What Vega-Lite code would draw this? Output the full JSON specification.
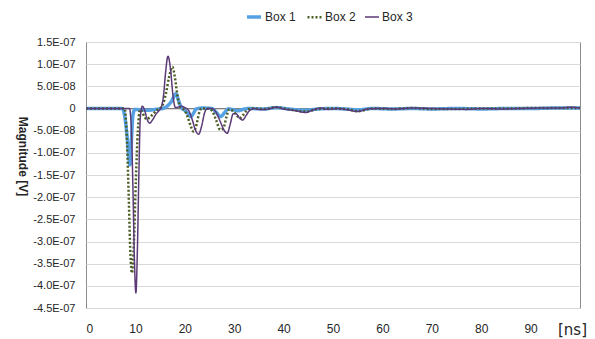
{
  "$schema": "https://vega.github.io/schema/vega-lite/v6.json",
  "width": 494,
  "height": 266,
  "autosize": {"type": "none"},
  "padding": {"left": 86, "top": 42, "right": 15, "bottom": 31},
  "background": "white",
  "config": {
    "view": {"stroke": "#8c8c8c", "strokeWidth": 1},
    "font": "Liberation Sans",
    "legend": {
      "orient": "none", "legendX": 159, "legendY": -34, "direction": "horizontal",
      "symbolType": "stroke", "symbolSize": 196, "labelFontSize": 12,
      "labelFont": "Liberation Sans", "labelColor": "#262626",
      "columnPadding": 6, "labelOffset": 2, "padding": 0, "titlePadding": 0
    }
  },
  "data": {"values": [
    {"s":"Box 1","t":0,"v":0},{"s":"Box 1","t":5,"v":0},{"s":"Box 1","t":7.3,"v":0},{"s":"Box 1","t":7.8,"v":-1.5e-8},{"s":"Box 1","t":8.3,"v":-6e-8},{"s":"Box 1","t":8.9,"v":-1.27e-7},{"s":"Box 1","t":9.2,"v":-7e-8},{"s":"Box 1","t":9.5,"v":-1.5e-8},{"s":"Box 1","t":9.9,"v":-2e-9},{"s":"Box 1","t":11,"v":-3e-9},{"s":"Box 1","t":12.5,"v":-4e-9},{"s":"Box 1","t":14,"v":-2e-9},{"s":"Box 1","t":15.5,"v":0},{"s":"Box 1","t":16.5,"v":6e-9},{"s":"Box 1","t":17.3,"v":1.6e-8},{"s":"Box 1","t":18.2,"v":3.3e-8},{"s":"Box 1","t":18.8,"v":1.6e-8},{"s":"Box 1","t":19.3,"v":2e-9},{"s":"Box 1","t":20,"v":-4e-9},{"s":"Box 1","t":20.6,"v":-1.1e-8},{"s":"Box 1","t":21.2,"v":-1.8e-8},{"s":"Box 1","t":21.8,"v":-1e-8},{"s":"Box 1","t":22.3,"v":-1e-9},{"s":"Box 1","t":23.5,"v":1e-9},{"s":"Box 1","t":25.5,"v":0},{"s":"Box 1","t":26.3,"v":-8e-9},{"s":"Box 1","t":27.3,"v":-1.8e-8},{"s":"Box 1","t":28,"v":-1e-8},{"s":"Box 1","t":28.8,"v":-1e-9},{"s":"Box 1","t":29.8,"v":-3e-9},{"s":"Box 1","t":30.8,"v":-5e-9},{"s":"Box 1","t":31.8,"v":-2e-9},{"s":"Box 1","t":33,"v":0},{"s":"Box 1","t":36,"v":-1e-9},{"s":"Box 1","t":38.5,"v":2e-9},{"s":"Box 1","t":41,"v":-1e-9},{"s":"Box 1","t":44.5,"v":-4e-9},{"s":"Box 1","t":47,"v":-1e-9},{"s":"Box 1","t":50,"v":0},{"s":"Box 1","t":52.5,"v":-1e-9},{"s":"Box 1","t":55,"v":-3e-9},{"s":"Box 1","t":58,"v":0},{"s":"Box 1","t":62,"v":-1e-9},{"s":"Box 1","t":66,"v":0},{"s":"Box 1","t":70,"v":-1e-9},{"s":"Box 1","t":75,"v":0},{"s":"Box 1","t":80,"v":-1e-9},{"s":"Box 1","t":85,"v":0},{"s":"Box 1","t":90,"v":0},{"s":"Box 1","t":95,"v":1e-9},{"s":"Box 1","t":100,"v":1e-9},

    {"s":"Box 2","t":0,"v":0},{"s":"Box 2","t":5,"v":0},{"s":"Box 2","t":7.8,"v":0},{"s":"Box 2","t":8.2,"v":-5e-8},{"s":"Box 2","t":8.6,"v":-1.8e-7},{"s":"Box 2","t":9.0,"v":-3.3e-7},{"s":"Box 2","t":9.3,"v":-3.71e-7},{"s":"Box 2","t":9.7,"v":-3e-7},{"s":"Box 2","t":10.1,"v":-1.6e-7},{"s":"Box 2","t":10.5,"v":-5e-8},{"s":"Box 2","t":10.9,"v":-3e-9},{"s":"Box 2","t":11.3,"v":-6e-9},{"s":"Box 2","t":11.8,"v":-1.8e-8},{"s":"Box 2","t":12.3,"v":-2.4e-8},{"s":"Box 2","t":12.9,"v":-2e-8},{"s":"Box 2","t":13.6,"v":-1.2e-8},{"s":"Box 2","t":14.3,"v":-4e-9},{"s":"Box 2","t":15,"v":0},{"s":"Box 2","t":15.6,"v":1e-8},{"s":"Box 2","t":16.2,"v":3.5e-8},{"s":"Box 2","t":16.8,"v":7e-8},{"s":"Box 2","t":17.5,"v":9.4e-8},{"s":"Box 2","t":18,"v":7e-8},{"s":"Box 2","t":18.5,"v":3e-8},{"s":"Box 2","t":19,"v":5e-9},{"s":"Box 2","t":19.5,"v":0},{"s":"Box 2","t":20,"v":-5e-9},{"s":"Box 2","t":20.6,"v":-2e-8},{"s":"Box 2","t":21.2,"v":-4e-8},{"s":"Box 2","t":21.8,"v":-5.2e-8},{"s":"Box 2","t":22.4,"v":-3.5e-8},{"s":"Box 2","t":22.9,"v":-1e-8},{"s":"Box 2","t":23.4,"v":0},{"s":"Box 2","t":24.5,"v":0},{"s":"Box 2","t":25.5,"v":-5e-9},{"s":"Box 2","t":26.3,"v":-2.5e-8},{"s":"Box 2","t":27.2,"v":-4.8e-8},{"s":"Box 2","t":27.8,"v":-4.5e-8},{"s":"Box 2","t":28.4,"v":-2e-8},{"s":"Box 2","t":29,"v":-2e-9},{"s":"Box 2","t":29.8,"v":-6e-9},{"s":"Box 2","t":30.5,"v":-1.5e-8},{"s":"Box 2","t":31.1,"v":-2.2e-8},{"s":"Box 2","t":31.8,"v":-1.5e-8},{"s":"Box 2","t":32.5,"v":-5e-9},{"s":"Box 2","t":33.5,"v":0},{"s":"Box 2","t":36,"v":-1e-9},{"s":"Box 2","t":38.5,"v":3e-9},{"s":"Box 2","t":41,"v":-2e-9},{"s":"Box 2","t":44.5,"v":-7e-9},{"s":"Box 2","t":47,"v":-1e-9},{"s":"Box 2","t":50,"v":0},{"s":"Box 2","t":53,"v":-2e-9},{"s":"Box 2","t":55,"v":-6e-9},{"s":"Box 2","t":58,"v":0},{"s":"Box 2","t":62,"v":-1e-9},{"s":"Box 2","t":66,"v":1e-9},{"s":"Box 2","t":70,"v":-1e-9},{"s":"Box 2","t":75,"v":-1e-9},{"s":"Box 2","t":80,"v":0},{"s":"Box 2","t":85,"v":0},{"s":"Box 2","t":90,"v":1e-9},{"s":"Box 2","t":95,"v":1e-9},{"s":"Box 2","t":100,"v":1e-9},

    {"s":"Box 3","t":0,"v":0},{"s":"Box 3","t":5,"v":0},{"s":"Box 3","t":8.8,"v":0},{"s":"Box 3","t":9.2,"v":-5e-8},{"s":"Box 3","t":9.5,"v":-1.8e-7},{"s":"Box 3","t":9.8,"v":-3.4e-7},{"s":"Box 3","t":10.1,"v":-4.16e-7},{"s":"Box 3","t":10.4,"v":-3.2e-7},{"s":"Box 3","t":10.7,"v":-1.5e-7},{"s":"Box 3","t":11,"v":-2e-8},{"s":"Box 3","t":11.4,"v":5e-9},{"s":"Box 3","t":11.9,"v":-5e-9},{"s":"Box 3","t":12.4,"v":-2.5e-8},{"s":"Box 3","t":12.9,"v":-3.3e-8},{"s":"Box 3","t":13.5,"v":-2.5e-8},{"s":"Box 3","t":14.2,"v":-1.2e-8},{"s":"Box 3","t":14.9,"v":-3e-9},{"s":"Box 3","t":15.3,"v":5e-9},{"s":"Box 3","t":15.7,"v":3e-8},{"s":"Box 3","t":16.1,"v":8e-8},{"s":"Box 3","t":16.6,"v":1.18e-7},{"s":"Box 3","t":17.1,"v":9e-8},{"s":"Box 3","t":17.6,"v":3e-8},{"s":"Box 3","t":18.1,"v":2e-9},{"s":"Box 3","t":18.6,"v":3e-9},{"s":"Box 3","t":19.3,"v":5e-9},{"s":"Box 3","t":20,"v":2e-9},{"s":"Box 3","t":20.8,"v":-5e-9},{"s":"Box 3","t":21.5,"v":-2.5e-8},{"s":"Box 3","t":22.2,"v":-5e-8},{"s":"Box 3","t":22.8,"v":-5.8e-8},{"s":"Box 3","t":23.4,"v":-4e-8},{"s":"Box 3","t":24,"v":-1e-8},{"s":"Box 3","t":24.6,"v":0},{"s":"Box 3","t":25.5,"v":0},{"s":"Box 3","t":26.3,"v":-8e-9},{"s":"Box 3","t":27.2,"v":-3e-8},{"s":"Box 3","t":28,"v":-5e-8},{"s":"Box 3","t":28.6,"v":-5.6e-8},{"s":"Box 3","t":29.2,"v":-3.5e-8},{"s":"Box 3","t":29.8,"v":-1.2e-8},{"s":"Box 3","t":30.4,"v":-1.2e-8},{"s":"Box 3","t":31.1,"v":-2.2e-8},{"s":"Box 3","t":31.7,"v":-2.6e-8},{"s":"Box 3","t":32.4,"v":-1.6e-8},{"s":"Box 3","t":33,"v":-6e-9},{"s":"Box 3","t":34,"v":0},{"s":"Box 3","t":35,"v":-2e-9},{"s":"Box 3","t":36.5,"v":-2e-9},{"s":"Box 3","t":38.5,"v":3e-9},{"s":"Box 3","t":40,"v":-1e-9},{"s":"Box 3","t":42,"v":-4e-9},{"s":"Box 3","t":44.5,"v":-9e-9},{"s":"Box 3","t":46,"v":-3e-9},{"s":"Box 3","t":47.5,"v":1e-9},{"s":"Box 3","t":49,"v":-2e-9},{"s":"Box 3","t":51,"v":0},{"s":"Box 3","t":53,"v":-3e-9},{"s":"Box 3","t":55,"v":-7e-9},{"s":"Box 3","t":57,"v":-1e-9},{"s":"Box 3","t":60,"v":0},{"s":"Box 3","t":63,"v":-1e-9},{"s":"Box 3","t":66,"v":1e-9},{"s":"Box 3","t":70,"v":0},{"s":"Box 3","t":73,"v":-1e-9},{"s":"Box 3","t":77,"v":-2e-9},{"s":"Box 3","t":80,"v":0},{"s":"Box 3","t":84,"v":-1e-9},{"s":"Box 3","t":88,"v":0},{"s":"Box 3","t":92,"v":1e-9},{"s":"Box 3","t":96,"v":1e-9},{"s":"Box 3","t":98,"v":3e-9},{"s":"Box 3","t":100,"v":1e-9}
  ]},
  "layer": [
    {
      "mark": {"type": "rule", "color": "#7f7f7f", "strokeWidth": 1},
      "encoding": {"y": {"datum": 0, "type": "quantitative"}}
    },
    {
      "mark": {"type": "line", "interpolate": "monotone"},
      "encoding": {
        "x": {
          "field": "t", "type": "quantitative",
          "scale": {"domain": [0, 100], "nice": false},
          "axis": {
            "values": [0, 10, 20, 30, 40, 50, 60, 70, 80, 90],
            "tickCount": 20,
            "grid": false, "ticks": false, "domain": false,
            "labelFontSize": 12, "labelColor": "#262626", "labelPadding": 15,
            "title": "[ns]", "titleX": 486, "titleY": 21, "titleAngle": 0,
            "titleFont": "DejaVu Sans", "titleFontSize": 15, "titleFontWeight": "normal",
            "titleColor": "#262626", "titleBaseline": "middle", "titleAlign": "center"
          }
        },
        "y": {
          "field": "v", "type": "quantitative",
          "scale": {"domain": [-4.5e-7, 1.5e-7], "nice": false, "zero": false},
          "axis": {
            "values": [-4.5e-7, -4e-7, -3.5e-7, -3e-7, -2.5e-7, -2e-7, -1.5e-7, -1e-7, -5e-8, 0, 5e-8, 1e-7, 1.5e-7],
            "tickCount": 20,
            "labelExpr": "abs(datum.value) < 1e-12 ? '0' : replace(replace(format(datum.value, '.1e'), 'e-', 'E-0'), '\u2212', '-')",
            "labelOverlap": false,
            "grid": true, "gridColor": "#d9d9d9", "ticks": false, "domain": false,
            "labelFontSize": 11, "labelColor": "#262626", "labelPadding": 11,
            "title": "Magnitude [V]", "titleAngle": 90, "titleX": -64, "titleY": 114,
            "titleFont": "Liberation Sans", "titleFontSize": 12, "titleFontWeight": "bold",
            "titleColor": "#262626", "titleBaseline": "middle", "titleAlign": "center"
          }
        },
        "color": {
          "field": "s", "type": "nominal",
          "scale": {"domain": ["Box 1", "Box 2", "Box 3"], "range": ["#55a1e4", "#4a5e23", "#5c3a78"]},
          "legend": {"title": null}
        },
        "strokeDash": {
          "field": "s", "type": "nominal",
          "scale": {"domain": ["Box 1", "Box 2", "Box 3"], "range": [[1, 0], [2, 2], [1, 0]]},
          "legend": {"title": null}
        },
        "strokeWidth": {
          "field": "s", "type": "nominal",
          "scale": {"domain": ["Box 1", "Box 2", "Box 3"], "range": [3.5, 1.5, 1]},
          "legend": {"title": null}
        }
      }
    }
  ]
}
